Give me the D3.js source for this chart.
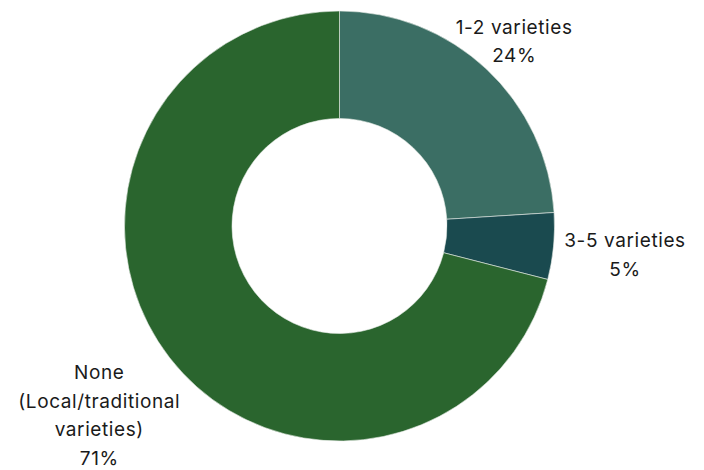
<!DOCTYPE html>
<html>
<head>
<meta charset="utf-8">
<script src="https://cdn.jsdelivr.net/npm/d3@7"></script>
<style>
  html, body { margin: 0; padding: 0; background: #ffffff; }
  svg { display: block; }
  text { font-family: "Inter", "DejaVu Sans", sans-serif; fill: #1a1a1a; }
</style>
</head>
<body>
<svg id="chart" width="704" height="470"></svg>
<script>
// Improved seed varieties adopted, share of households
const categories = ["1-2 varieties", "3-5 varieties", "None (Local/traditional varieties)"];
const values = [24, 5, 71];
const labelLines = [["1-2 varieties"], ["3-5 varieties"], ["None", "(Local/traditional", "varieties)"]];
const sliceColors = ["#3b6e64", "#1a4a4f", "#2a652e"];

const width = 704, height = 470;
const cx = 339.5, cy = 226;
const outerR = 215, innerR = 107.5;
const fontSize = 19, lineH = 28.5, capH = 13.5;

const svg = d3.select("#chart");
const g = svg.append("g").attr("transform", `translate(${cx},${cy})`);

const data = categories.map((c, i) => ({ category: c, value: values[i], lines: labelLines[i], color: sliceColors[i] }));

const pie = d3.pie().value(d => d.value).sort(null);
const arc = d3.arc().innerRadius(innerR).outerRadius(outerR);
const arcs = pie(data);

g.selectAll("path.slice")
  .data(arcs)
  .join("path")
  .attr("class", "slice")
  .attr("d", arc)
  .attr("fill", d => d.data.color)
  .attr("stroke", "#e8ece8")
  .attr("stroke-width", 0.6);

// Outside labels: category lines followed by the percentage
const total = d3.sum(values);
const fmtPct = v => Math.round(v / total * 100) + "%";
const labelPad = 8;
const nudge = { "1-2 varieties": [-18, 0], "3-5 varieties": [3, 0] };

arcs.forEach(a => {
  const mid = (a.startAngle + a.endAngle) / 2;
  const ux = Math.sin(mid), uy = -Math.cos(mid);
  const px = ux * (outerR + labelPad), py = uy * (outerR + labelPad);
  const lines = a.data.lines.concat([fmtPct(a.data.value)]);

  const t = g.append("text")
    .attr("text-anchor", "middle")
    .attr("font-size", fontSize)
    .attr("letter-spacing", 0.6);
  lines.forEach((ln, i) => {
    t.append("tspan").attr("x", 0).attr("y", capH + i * lineH).text(ln);
  });

  const w = d3.max(t.selectAll("tspan").nodes(), n => n.getComputedTextLength());
  const h = capH + (lines.length - 1) * lineH;
  const yf = Math.max(-1.06, Math.min(1.06, uy * 4));
  const nd = nudge[a.data.category] || [0, 0];
  const centerX = px + ux * w / 2 + nd[0];
  const centerY = py + yf * h / 2 + nd[1];
  t.attr("transform", `translate(${centerX},${centerY - h / 2})`);
});
</script>
</body>
</html>
